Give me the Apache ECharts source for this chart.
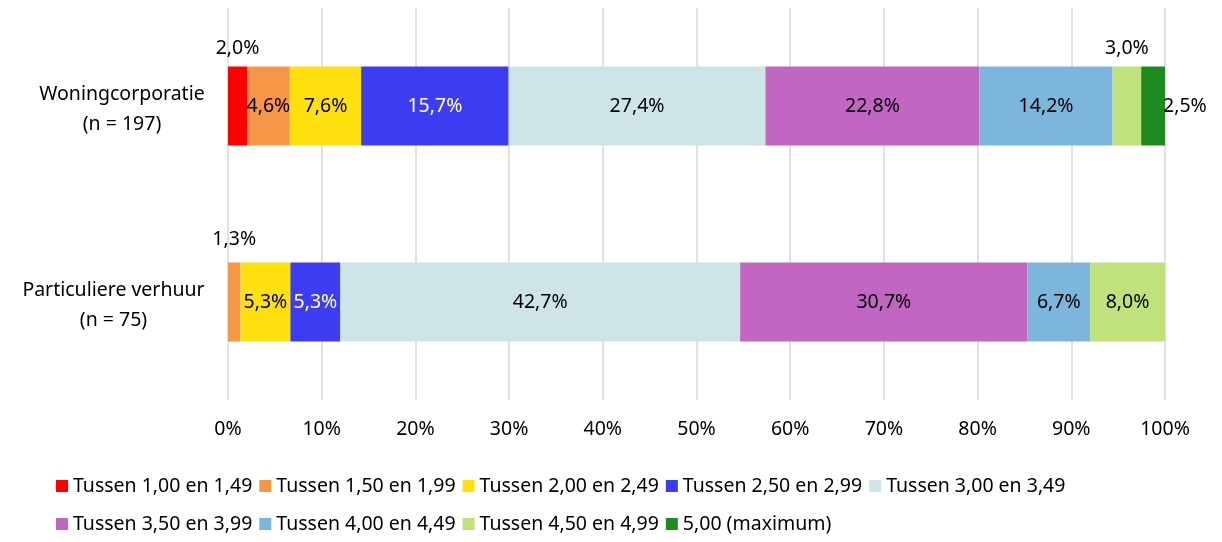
<!DOCTYPE html>
<html><head><meta charset="utf-8">
<script src="https://cdn.jsdelivr.net/npm/echarts@6/dist/echarts.min.js"></script>
<style>html,body{margin:0;padding:0;background:#fff}#c{width:1222px;height:542px}</style>
</head><body><div id="c"></div>
<script>
const categories = ['Woningcorporatie\n(n = 197)', 'Particuliere verhuur\n(n = 75)'];
const seriesNames = ['Tussen 1,00 en 1,49','Tussen 1,50 en 1,99','Tussen 2,00 en 2,49','Tussen 2,50 en 2,99','Tussen 3,00 en 3,49','Tussen 3,50 en 3,99','Tussen 4,00 en 4,49','Tussen 4,50 en 4,99','5,00 (maximum)'];
// values per category (percent)
const woningcorporatie = [2.03, 4.57, 7.61, 15.74, 27.41, 22.84, 14.21, 3.05, 2.54];
const particuliere = [0, 1.33, 5.33, 5.33, 42.67, 30.67, 6.67, 8.0, 0];
const xTicks = [0,10,20,30,40,50,60,70,80,90,100];

const colors = ['#FF0000','#F79646','#FFE00F','#3C3CF2','#CEE4E6','#C266C4','#7DB6DC','#BFE27C','#1E8B1E'];
const FONT = 'Noto Sans';
const FS = 19.5;
// label placement per [series][category]
const placeW = ['top','inside','inside','inside','inside','inside','inside','top','right'];
const placeP = ['inside','top','inside','inside','inside','inside','inside','inside','inside'];

function lbl(pos, color, topDist){
  const o = {show:true, position:pos, color:color, fontFamily:FONT, fontSize:FS,
    formatter:p=> p.value ? p.value.toFixed(1).replace('.',',')+'%' : ''};
  if(pos==='top') o.distance = topDist;
  if(pos==='right') o.distance = -2;
  return o;
}
const series = seriesNames.map((n,i)=>{
  const txt = i===3 ? '#fff' : '#000';
  return {
    name:n, type:'bar', stack:'s', barWidth:79,
    itemStyle:{color:colors[i]},
    data:[
      {value:woningcorporatie[i], label:lbl(placeW[i], txt, 8)},
      {value:particuliere[i], label:lbl(placeP[i], txt, 13)}
    ]
  };
});

// centre the lines of each category label within its own block
const ctx = document.createElement('canvas').getContext('2d');
ctx.font = FS + 'px "' + FONT + '"';
const rich = {};
categories.forEach((c,k)=>{
  const w = Math.max(...c.split('\n').map(s=>ctx.measureText(s).width));
  rich['c'+k] = {width:Math.ceil(w)+2, align:'center', fontFamily:FONT, fontSize:FS, color:'#000', lineHeight:30};
});

const chart = echarts.init(document.getElementById('c'), null, {renderer:'canvas'});
chart.setOption({
  animation:false,
  color:colors,
  textStyle:{fontFamily:FONT},
  grid:{left:228, right:57, top:8, height:392},
  xAxis:{type:'value', min:0, max:100, interval:10,
    axisLine:{show:false}, axisTick:{show:false},
    splitLine:{lineStyle:{color:'#d9d9d9', width:1.5}},
    axisLabel:{formatter:v=>v+'%', fontFamily:FONT, fontSize:FS, color:'#000', margin:19}},
  yAxis:{type:'category', inverse:true, data:categories,
    axisLine:{show:false}, axisTick:{show:false},
    axisLabel:{margin:22, align:'right', rich:rich, padding:[6,0,0,0],
      formatter:(v,i)=>v.split('\n').map(s=>'{c'+i+'|'+s+'}').join('\n')}},
  legend:[
    {data:seriesNames.slice(0,5), left:51, top:471, icon:'rect', itemWidth:12, itemHeight:12, itemGap:7,
      textStyle:{fontFamily:FONT, fontSize:FS, color:'#000'}},
    {data:seriesNames.slice(5), left:51, top:509, icon:'rect', itemWidth:12, itemHeight:12, itemGap:7,
      textStyle:{fontFamily:FONT, fontSize:FS, color:'#000'}}
  ],
  series:series
});
</script></body></html>
